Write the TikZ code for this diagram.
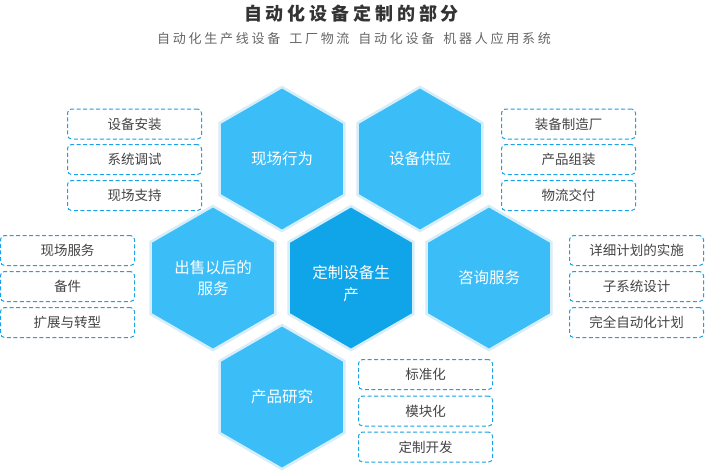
\documentclass[tikz,border=0pt]{standalone}
\usepackage{fontspec}
\setmainfont{Noto Sans CJK SC}
\newfontfamily\titlefont[LetterSpace=21.5]{Noto Sans CJK SC}
\newfontfamily\subfont[LetterSpace=21]{Noto Sans CJK SC}
\usetikzlibrary{shapes.geometric}
\definecolor{hexlight}{HTML}{3BBDF8}
\definecolor{hexdark}{HTML}{10A5E8}
\definecolor{halo}{HTML}{D6EDFA}
\definecolor{dashc}{HTML}{1BA1E6}
\definecolor{boxtext}{HTML}{444444}
\definecolor{titlec}{HTML}{333333}
\definecolor{subc}{HTML}{666666}
\begin{document}
\begin{tikzpicture}[x=1pt,y=-1pt,
  hexa/.style={regular polygon, regular polygon sides=6, shape border rotate=30,
    minimum size=144pt, inner sep=0pt, outer sep=0pt, fill=hexlight, draw=halo,
    line width=2.5pt, text=white, font=\fontsize{15.5}{21}\selectfont, align=center},
  hexcore/.style={hexa, fill=hexdark},
  itembox/.style={draw=dashc, dash pattern=on 4pt off 2.5pt, rounded corners=4pt,
    line width=1pt, minimum width=134pt, minimum height=30pt, inner sep=0pt,
    text=boxtext, font=\fontsize{13.5}{16}\selectfont}]
\useasboundingbox (0,0) rectangle (705,474);
\fill[white] (0,0) rectangle (705,474);

% title
\node[text=titlec, font=\titlefont\bfseries\fontsize{18}{22}\selectfont] (title) at (351.5,14) {自动化设备定制的部分};
\node[text=subc, font=\subfont\fontsize{13}{16}\selectfont] (subtitle) at (354,38.5)
  {自动化生产线设备\hspace{9pt}工厂物流\hspace{9pt}自动化设备\hspace{9pt}机器人应用系统};

% hexagons
\node[hexa] (h1) at (282,159) {现场行为};
\node[hexa] (h2) at (420,159) {设备供应};
\node[hexa] (h3) at (213,278) {出售以后的\\服务};
\node[hexcore] (h0) at (351,278) {};
\node[text=white, font=\fontsize{15.5}{22}\selectfont, align=center] (h0t) at (351,283.5) {定制设备生\\产};
\node[hexa] (h4) at (489,278) {咨询服务};
\node[hexa] (h5) at (282,397) {产品研究};

% boxes left top
\node[itembox] (a1) at (134.5,124) {设备安装};
\node[itembox] (a2) at (134.5,159.5) {系统调试};
\node[itembox] (a3) at (134.5,195.5) {现场支持};
% right top
\node[itembox] (b1) at (568.5,124) {装备制造厂};
\node[itembox] (b2) at (568.5,159.5) {产品组装};
\node[itembox] (b3) at (568.5,195.5) {物流交付};
% left lower
\node[itembox] (c1) at (67.5,250.5) {现场服务};
\node[itembox] (c2) at (67.5,286.5) {备件};
\node[itembox] (c3) at (67.5,322.5) {扩展与转型};
% right lower
\node[itembox] (d1) at (636.5,250.5) {详细计划的实施};
\node[itembox] (d2) at (636.5,286.5) {子系统设计};
\node[itembox] (d3) at (636.5,322.5) {完全自动化计划};
% bottom
\node[itembox] (e1) at (425.5,374.5) {标准化};
\node[itembox] (e2) at (425.5,411) {模块化};
\node[itembox] (e3) at (425.5,447) {定制开发};
\end{tikzpicture}
\end{document}
